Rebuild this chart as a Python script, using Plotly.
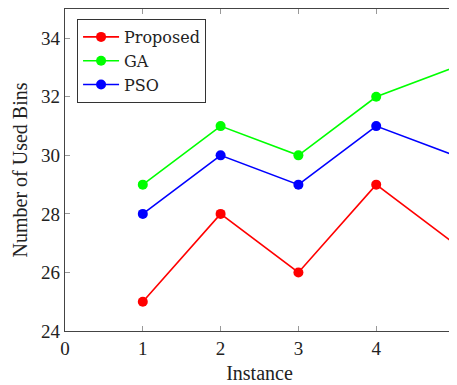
import plotly.graph_objects as go

instances = [1, 2, 3, 4, 5]
proposed = [25, 28, 26, 29, 27]
ga = [29, 31, 30, 32, 33]
pso = [28, 30, 29, 31, 30]

series = [("Proposed", proposed, "#ff0000"), ("GA", ga, "#00ff00"), ("PSO", pso, "#0000ff")]

fig = go.Figure()
for name, vals, col in series:
    fig.add_trace(go.Scatter(x=instances, y=vals, name=name, mode="lines+markers",
                             line=dict(color=col, width=1.6),
                             marker=dict(color=col, size=10), cliponaxis=True))

font = "Liberation Serif"
# the page body adds an 8px offset; margins compensate so the plot box lands where the reference has it
fig.update_layout(
    width=457, height=385,
    margin=dict(l=57, r=11, t=1, b=62),
    paper_bgcolor="white", plot_bgcolor="white",
    font=dict(family=font, size=19, color="#222"),
    showlegend=True,
    legend=dict(x=0.031, y=0.969, xanchor="left", yanchor="top",
                bgcolor="white", bordercolor="#333", borderwidth=1,
                font=dict(family="DejaVu Serif", size=16), tracegroupgap=0, itemwidth=36),
    xaxis=dict(range=[0, 5], tickvals=[0, 1, 2, 3, 4, 5], ticks="inside", ticklen=5,
               tickcolor="#999", showline=True, linecolor="#444", linewidth=1.2,
               mirror="ticks", showgrid=False, zeroline=False, automargin=False,
               title=dict(text="Instance", standoff=8, font=dict(size=20))),
    yaxis=dict(range=[24, 35], tickvals=[24, 26, 28, 30, 32, 34], ticks="inside", ticklen=5,
               tickcolor="#999", showline=True, linecolor="#444", linewidth=1.2,
               mirror="ticks", showgrid=False, zeroline=False, automargin=False,
               title=dict(text="Number of Used Bins", standoff=8, font=dict(size=20))),
)
fig.write_html("out.html")
